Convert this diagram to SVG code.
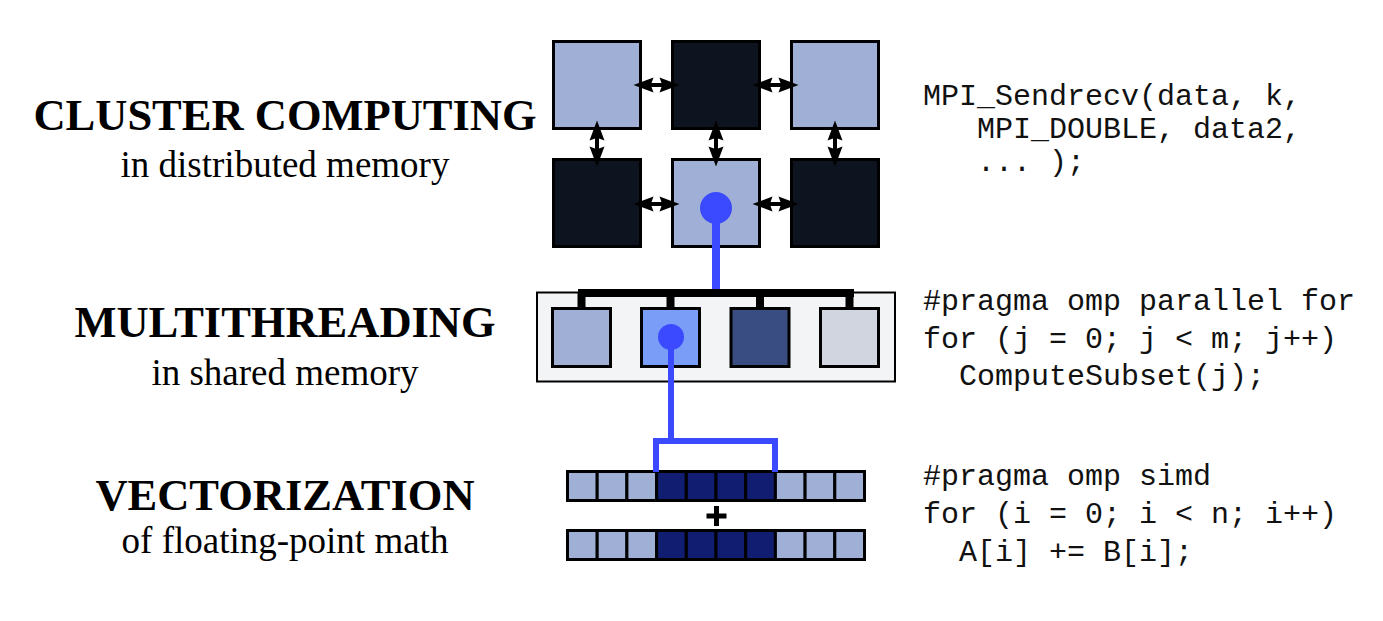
<svg xmlns="http://www.w3.org/2000/svg" width="1383" height="621" viewBox="0 0 1383 621">
<style>
.light{fill:#9FAFD6;stroke:#000;stroke-width:3}
.dark{fill:#0E1320;stroke:#000;stroke-width:3}
.navy{fill:#111D70;stroke:#000;stroke-width:3}
.head{font-family:"Liberation Serif","Times New Roman",serif;font-weight:bold;font-size:44.5px;fill:#000;text-anchor:middle}
.sub{font-family:"Liberation Serif","Times New Roman",serif;font-size:37px;fill:#000;text-anchor:middle}
.code{font-family:"Liberation Mono","Courier New",monospace;font-size:30px;fill:#111}
.blue{stroke:#3C4AFF;fill:none}
.arr{fill:#000}
</style>
<defs>
<path id="dbl" d="M-23,0 L-3,-7.5 L-5,-2 L5,-2 L3,-7.5 L23,0 L3,7.5 L5,2 L-5,2 L-3,7.5 Z"/>
</defs>
<rect width="1383" height="621" fill="#fff"/>

<g id="labels">
<text class="head" x="285" y="130">CLUSTER COMPUTING</text>
<text class="sub" x="285" y="177">in distributed memory</text>
<text class="head" x="285" y="337">MULTITHREADING</text>
<text class="sub" x="285" y="385">in shared memory</text>
<text class="head" x="285" y="510">VECTORIZATION</text>
<text class="sub" x="285" y="553">of floating-point math</text>
</g>

<g id="code">
<text class="code" x="923" y="105">MPI_Sendrecv(data, k,</text>
<text class="code" x="977" y="138">MPI_DOUBLE, data2,</text>
<text class="code" x="977" y="171">... );</text>
<text class="code" x="923" y="310">#pragma omp parallel for</text>
<text class="code" x="923" y="348">for (j = 0; j &lt; m; j++)</text>
<text class="code" x="959" y="385">ComputeSubset(j);</text>
<text class="code" x="923" y="485">#pragma omp simd</text>
<text class="code" x="923" y="523">for (i = 0; i &lt; n; i++)</text>
<text class="code" x="959" y="561">A[i] += B[i];</text>
</g>

<g id="cluster">
<rect id="node-c11" class="light" x="553.5" y="41.5" width="87" height="87"/>
<rect id="node-c12" class="dark" x="672.5" y="41.5" width="87" height="87"/>
<rect id="node-c13" class="light" x="791.5" y="41.5" width="87" height="87"/>
<rect id="node-c21" class="dark" x="553.5" y="159.5" width="87" height="87"/>
<rect id="node-c22" class="light" x="672.5" y="159.5" width="87" height="87"/>
<rect id="node-c23" class="dark" x="791.5" y="159.5" width="87" height="87"/>
</g>

<g id="shared">
<rect id="node-box" x="537" y="292.5" width="358" height="89" fill="#F3F4F6" stroke="#000" stroke-width="2"/>
<rect id="node-t1" x="552.5" y="308.5" width="58" height="58" fill="#9FAFD6" stroke="#000" stroke-width="3"/>
<rect id="node-t2" x="641.5" y="308.5" width="58" height="58" fill="#7A9DF8" stroke="#000" stroke-width="3"/>
<rect id="node-t3" x="731" y="308.5" width="58" height="58" fill="#3A4D82" stroke="#000" stroke-width="3"/>
<rect id="node-t4" x="820.5" y="308.5" width="58" height="58" fill="#D0D5E0" stroke="#000" stroke-width="3"/>
</g>

<g id="vectors">
<g id="node-vecA">
<rect class="light" x="567.5" y="471.5" width="29.7" height="29"/>
<rect class="light" x="597.2" y="471.5" width="29.7" height="29"/>
<rect class="light" x="626.9" y="471.5" width="29.7" height="29"/>
<rect class="navy" x="656.6" y="471.5" width="29.7" height="29"/>
<rect class="navy" x="686.3" y="471.5" width="29.7" height="29"/>
<rect class="navy" x="716" y="471.5" width="29.7" height="29"/>
<rect class="navy" x="745.7" y="471.5" width="29.7" height="29"/>
<rect class="light" x="775.4" y="471.5" width="29.7" height="29"/>
<rect class="light" x="805.1" y="471.5" width="29.7" height="29"/>
<rect class="light" x="834.8" y="471.5" width="29.7" height="29"/>
</g>
<g id="node-vecB">
<rect class="light" x="567.5" y="530.5" width="29.7" height="29"/>
<rect class="light" x="597.2" y="530.5" width="29.7" height="29"/>
<rect class="light" x="626.9" y="530.5" width="29.7" height="29"/>
<rect class="navy" x="656.6" y="530.5" width="29.7" height="29"/>
<rect class="navy" x="686.3" y="530.5" width="29.7" height="29"/>
<rect class="navy" x="716" y="530.5" width="29.7" height="29"/>
<rect class="navy" x="745.7" y="530.5" width="29.7" height="29"/>
<rect class="light" x="775.4" y="530.5" width="29.7" height="29"/>
<rect class="light" x="805.1" y="530.5" width="29.7" height="29"/>
<rect class="light" x="834.8" y="530.5" width="29.7" height="29"/>
</g>
<path id="plus" d="M706.5 516 H726.5 M716.5 506 V526" stroke="#000" stroke-width="5" fill="none"/>
</g>

<g id="connectors">
<use href="#dbl" class="arr" x="656.5" y="85"/>
<use href="#dbl" class="arr" x="775.5" y="85"/>
<use href="#dbl" class="arr" x="656.5" y="204"/>
<use href="#dbl" class="arr" x="775.5" y="204"/>
<use href="#dbl" class="arr" transform="translate(597 143.5) rotate(90)"/>
<use href="#dbl" class="arr" transform="translate(716 143.5) rotate(90)"/>
<use href="#dbl" class="arr" transform="translate(835 143.5) rotate(90)"/>
<line class="blue" x1="716" y1="208" x2="716" y2="293" stroke-width="8"/>
<circle cx="716" cy="208" r="16" fill="#3C4AFF"/>
<path d="M578 293 H854 M581.5 293 V308 M670.5 293 V308 M760 293 V308 M849.5 293 V308" stroke="#000" stroke-width="8" fill="none"/>
<path class="blue" d="M671 337 V441 M656 472 V441 H775 V472" stroke-width="6"/>
<circle cx="671" cy="337" r="13" fill="#3C4AFF"/>
</g>
</svg>
